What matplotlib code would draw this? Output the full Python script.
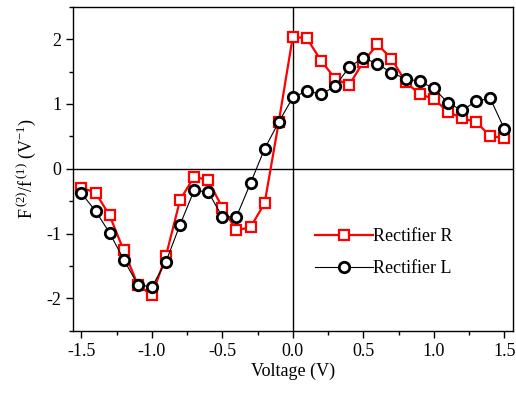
import numpy as np
import matplotlib
matplotlib.use("Agg")
import matplotlib.pyplot as plt
from matplotlib.ticker import MultipleLocator, FormatStrFormatter

plt.rcParams["font.family"] = "Liberation Serif"
plt.rcParams["mathtext.default"] = "regular"

# data
voltage = [-1.5, -1.4, -1.3, -1.2, -1.1, -1.0, -0.9, -0.8, -0.7, -0.6, -0.5,
           -0.4, -0.3, -0.2, -0.1, 0.0, 0.1, 0.2, 0.3, 0.4, 0.5, 0.6, 0.7,
           0.8, 0.9, 1.0, 1.1, 1.2, 1.3, 1.4, 1.5]
rect_r = [-0.29, -0.37, -0.72, -1.26, -1.79, -1.95, -1.34, -0.48, -0.12, -0.18,
          -0.60, -0.95, -0.90, -0.53, 0.72, 2.04, 2.01, 1.67, 1.39, 1.29, 1.65,
          1.92, 1.70, 1.34, 1.15, 1.08, 0.88, 0.78, 0.72, 0.51, 0.47]
rect_l = [-0.38, -0.65, -0.99, -1.40, -1.79, -1.82, -1.43, -0.86, -0.33, -0.36,
          -0.74, -0.74, -0.22, 0.31, 0.72, 1.10, 1.20, 1.15, 1.27, 1.57, 1.71,
          1.62, 1.48, 1.39, 1.35, 1.24, 1.02, 0.90, 1.04, 1.09, 0.62]

fig = plt.figure(figsize=(5.16, 3.93), dpi=100)
ax = fig.add_axes([0.1415, 0.158, 0.852, 0.825])

ax.axhline(0, color="black", lw=1.0, zorder=1)
ax.axvline(0, color="black", lw=1.0, zorder=1)

ax.plot(voltage, rect_r, color="red", lw=1.6, marker="s", ms=7.5,
        mfc="white", mec="red", mew=1.6, label="Rectifier R", zorder=2)
ax.plot(voltage, rect_l, color="black", lw=0.8, marker="o", ms=7.5,
        mfc="white", mec="black", mew=2.0, label="Rectifier L", zorder=3)

ax.set_xlim(-1.56, 1.56)
ax.set_ylim(-2.5, 2.5)
ax.xaxis.set_major_locator(MultipleLocator(0.5))
ax.xaxis.set_minor_locator(MultipleLocator(0.25))
ax.yaxis.set_major_locator(MultipleLocator(1))
ax.yaxis.set_minor_locator(MultipleLocator(0.5))
ax.xaxis.set_major_formatter(FormatStrFormatter("%.1f"))
ax.yaxis.set_major_formatter(FormatStrFormatter("%d"))
ax.tick_params(which="major", direction="out", length=5, width=1, labelsize=13)
ax.tick_params(which="minor", direction="out", length=3, width=1)
for s in ax.spines.values():
    s.set_linewidth(1.0)

ax.set_xlabel("Voltage (V)", fontsize=13, labelpad=2)
ax.set_ylabel(r"F$^{\,(2)}$/f$^{\,(1)}$ (V$^{-1}$)", fontsize=13, labelpad=6)

ax.legend(loc="lower right", bbox_to_anchor=(0.90, 0.115), frameon=False,
          fontsize=13, handlelength=3.2, handletextpad=0.0, labelspacing=0.85)

fig.savefig("out.png", dpi=100)
